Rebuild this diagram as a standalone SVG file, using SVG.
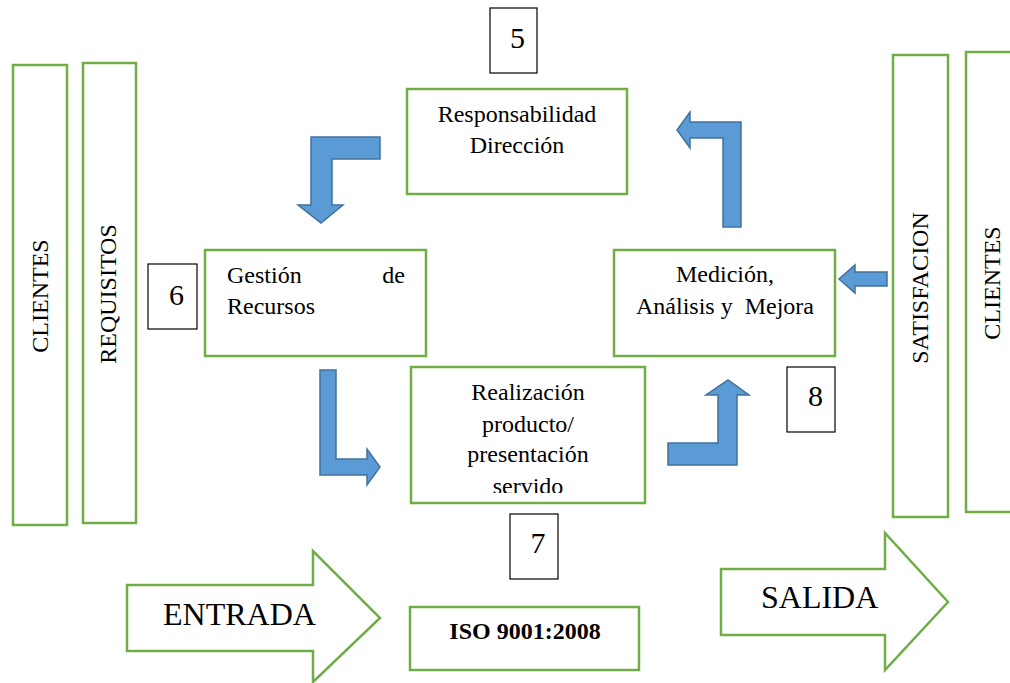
<svg xmlns="http://www.w3.org/2000/svg" width="1010" height="683" viewBox="0 0 1010 683">
<style>
.box{fill:#fff;stroke:#70AD47;stroke-width:2.5}
.num{fill:#fff;stroke:#000;stroke-width:1.2}
.arr{fill:#5B9BD5;stroke:#41719C;stroke-width:1.5;stroke-linejoin:miter}
.t{font-family:"Liberation Serif","Times New Roman",serif;font-size:24px;fill:#000}
.c{text-anchor:middle}
.d{font-size:30px}
.big{font-size:32px}
.b{font-weight:bold}
</style>
<defs>
<clipPath id="clipReal"><rect x="411" y="367" width="234" height="126"/></clipPath>
</defs>
<rect width="1010" height="683" fill="#fff"/>

<g id="clientes-left">
<rect class="box" x="13" y="65" width="54" height="460"/>
<text class="t c" transform="translate(48,296) rotate(-90)">CLIENTES</text>
</g>
<g id="requisitos">
<rect class="box" x="83" y="63" width="53" height="460"/>
<text class="t c" transform="translate(116,294) rotate(-90)">REQUISITOS</text>
</g>
<g id="satisfacion">
<rect class="box" x="893" y="55" width="55" height="462"/>
<text class="t c" transform="translate(928,288) rotate(-90)">SATISFACION</text>
</g>
<g id="clientes-right">
<rect class="box" x="966" y="52" width="60" height="460"/>
<text class="t c" transform="translate(1000,283) rotate(-90)">CLIENTES</text>
</g>

<g id="responsabilidad">
<rect class="box" x="407" y="89" width="220" height="105"/>
<text class="t c" x="517" y="122">Responsabilidad</text>
<text class="t c" x="517" y="153">Dirección</text>
</g>
<g id="gestion">
<rect class="box" x="205" y="250" width="221" height="106"/>
<text class="t" x="227" y="283">Gestión</text>
<text class="t" x="405" y="283" text-anchor="end">de</text>
<text class="t" x="227" y="314">Recursos</text>
</g>
<g id="medicion">
<rect class="box" x="614" y="250" width="221" height="106"/>
<text class="t c" x="725" y="282">Medición,</text>
<text class="t c" x="725" y="314" xml:space="preserve">Análisis y  Mejora</text>
</g>
<g id="realizacion">
<rect class="box" x="411" y="367" width="234" height="136"/>
<g clip-path="url(#clipReal)">
<text class="t c" x="528" y="400">Realización</text>
<text class="t c" x="528" y="432">producto/</text>
<text class="t c" x="528" y="462">presentación</text>
<text class="t c" x="528" y="494">servido</text>
</g>
</g>
<g id="iso">
<rect class="box" x="410" y="607" width="229" height="63"/>
<text class="t c b" x="525" y="639" font-size="23">ISO 9001:2008</text>
</g>

<g id="n5"><rect class="num" x="490" y="8" width="47" height="65"/><text class="t c d" x="517.5" y="48">5</text></g>
<g id="n6"><rect class="num" x="148" y="264" width="49" height="65"/><text class="t c d" x="176.5" y="305">6</text></g>
<g id="n7"><rect class="num" x="510" y="514" width="48" height="65"/><text class="t c d" x="538" y="553">7</text></g>
<g id="n8"><rect class="num" x="787" y="367" width="48" height="65"/><text class="t c d" x="815.5" y="406">8</text></g>

<g id="entrada">
<polygon class="box" points="127,585 313,585 313,551 380,618 313,682 313,651 127,651"/>
<text class="t big" x="163" y="625">ENTRADA</text>
</g>
<g id="salida">
<polygon class="box" points="721,569 885,569 885,533 948,602 885,670 885,635 721,635"/>
<text class="t big" x="761" y="608">SALIDA</text>
</g>

<g id="connectors">
<polygon class="arr" points="380,137 311,137 311,205 298,205 321,223 343,205 332,205 332,159 380,159"/>
<polygon class="arr" points="320,370 336,370 336,459 367,459 367,449 380,467 367,485 367,475 320,475"/>
<polygon class="arr" points="668,443 718,443 718,395 706,395 728,380 749,395 737,395 737,465 668,465"/>
<polygon class="arr" points="741,227 741,122 690,122 690,112 677,130 690,148 690,138 723,138 723,227"/>
<polygon class="arr" points="887,272 855,272 855,265 839,279 855,293 855,286 887,286"/>
</g>
</svg>
